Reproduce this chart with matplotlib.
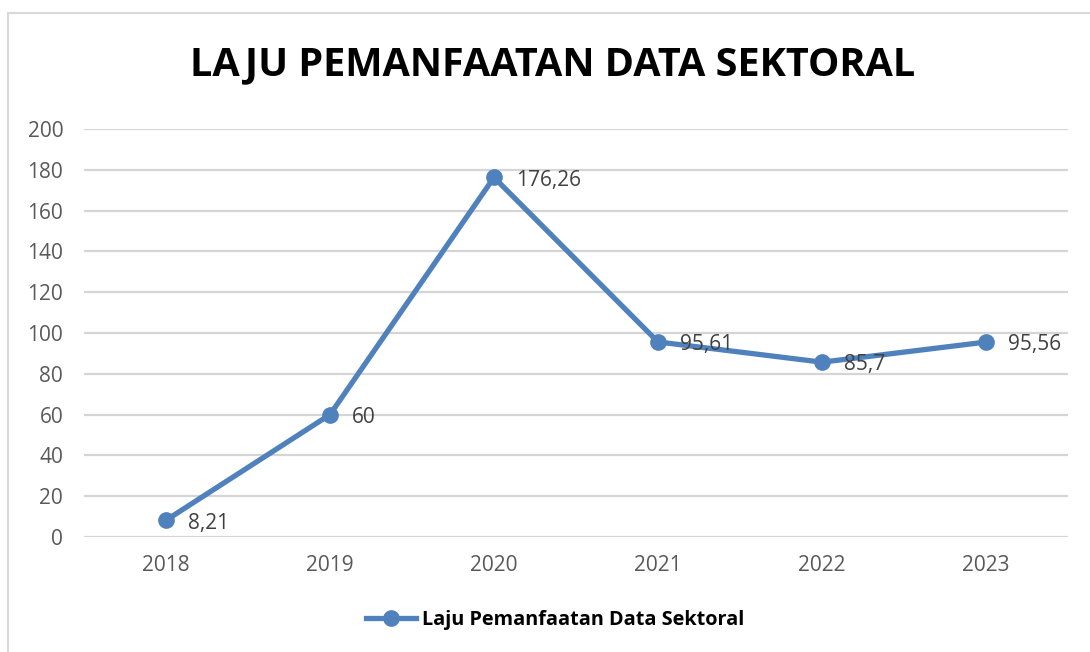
import matplotlib.pyplot as plt
from matplotlib.patches import Rectangle

years = ['2018', '2019', '2020', '2021', '2022', '2023']
values = [8.21, 60, 176.26, 95.61, 85.7, 95.56]
labels = ['8,21', '60', '176,26', '95,61', '85,7', '95,56']
yticks = [0, 20, 40, 60, 80, 100, 120, 140, 160, 180, 200]

blue = '#4F81BD'
plt.rcParams['font.family'] = ['Open Sans', 'DejaVu Sans']

fig = plt.figure(figsize=(10.9, 6.52), dpi=100)
ax = fig.add_axes([84 / 1090, 1 - 537 / 652, (1068 - 84) / 1090, (537 - 129) / 652])

# chart border, runs off right and bottom edges
fig.patches.append(Rectangle((8 / 1090, -0.1), 1.2, 1 - 13 / 652 + 0.1,
                             transform=fig.transFigure, fill=False,
                             edgecolor='#D9D9D9', linewidth=1.5))

x = range(len(years))
ax.plot(x, values, color=blue, linewidth=3.8, marker='o', markersize=11,
        label='Laju Pemanfaatan Data Sektoral', zorder=3)
for xi, v, lab in zip(x, values, labels):
    ax.annotate(lab, (xi, v), xytext=(16, -2), textcoords='offset points',
                ha='left', va='center', fontsize=15, color='#404040')

ax.set_xlim(-0.5, 5.5)
ax.set_ylim(0, 200)
ax.set_yticks(yticks)
ax.set_xticks(list(x))
ax.set_xticklabels(years)
ax.grid(axis='y', color='#D5D5D5', linewidth=1.6)
ax.set_axisbelow(True)
for s in ax.spines.values():
    s.set_visible(False)
ax.tick_params(length=0, labelsize=15, labelcolor='#595959')
ax.tick_params(axis='y', pad=15)
ax.tick_params(axis='x', pad=13)

fig.text(553 / 1090, 1 - 65 / 652, 'LAJU PEMANFAATAN DATA SEKTORAL',
         ha='center', va='center', fontsize=28.5, fontweight='bold', color='black')

leg = fig.legend(loc='center', bbox_to_anchor=(555 / 1090, 1 - 620 / 652),
                 frameon=False, handlelength=2.5, handletextpad=0.3,
                 prop={'weight': 'bold', 'size': 14.3})

fig.savefig('out.png', dpi=100)
